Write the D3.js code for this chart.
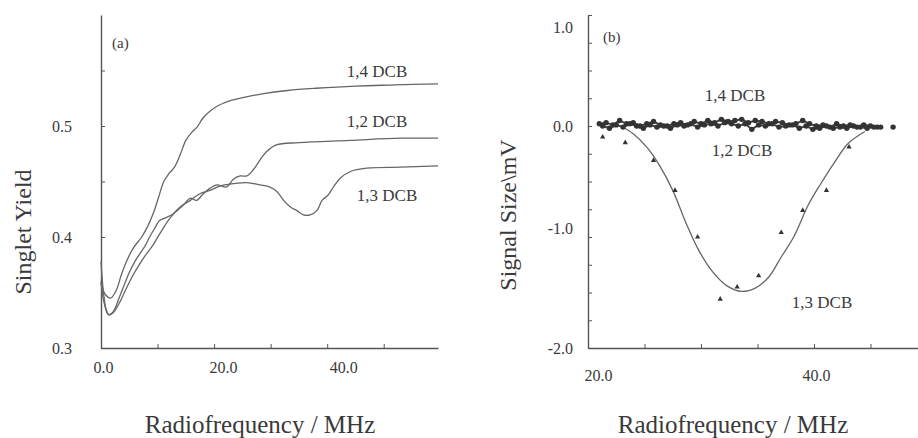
<!DOCTYPE html>
<html>
<head>
<meta charset="utf-8">
<script src="https://cdn.jsdelivr.net/npm/d3@7"></script>
<style>
  body { margin: 0; background: #fff; }
  svg { display: block; }
  text { font-family: "Liberation Serif", "Times New Roman", serif; fill: #3a3a3a; }
</style>
</head>
<body>
<svg id="chart" width="918" height="438"></svg>
<script>
// ---- panel (a): singlet yield vs radiofrequency ----
const yield14 = [[0,0.358],[0.8,0.348],[1.7,0.345],[2.7,0.352],[3.6,0.366],[4.6,0.379],[5.7,0.390],[7.2,0.400],[8.3,0.410],[9.3,0.422],[10.2,0.436],[11.1,0.450],[12.0,0.457],[13.0,0.463],[14.0,0.474],[15.0,0.487],[16.0,0.494],[17.0,0.499],[18.0,0.507],[19.2,0.513],[20.6,0.518],[23.0,0.523],[25.5,0.526],[28.5,0.529],[33,0.532],[38,0.534],[45,0.536],[52,0.537],[59.6,0.538]];
const yield12 = [[0,0.378],[0.4,0.352],[0.9,0.335],[1.4,0.330],[2.2,0.333],[3.2,0.345],[4.2,0.358],[5.0,0.368],[6.0,0.378],[7.0,0.386],[7.8,0.392],[8.6,0.400],[9.4,0.407],[10.4,0.415],[11.3,0.417],[12.8,0.421],[14.6,0.429],[15.8,0.435],[16.9,0.433],[18.1,0.439],[19.3,0.444],[20.5,0.447],[22.2,0.445],[23.4,0.452],[24.6,0.455],[25.8,0.455],[27.0,0.461],[28.2,0.470],[29.3,0.477],[31.0,0.483],[35,0.485],[44,0.487],[53,0.489],[59.6,0.489]];
const yield13 = [[0,0.360],[0.5,0.342],[1.3,0.330],[2.2,0.332],[3.4,0.342],[4.6,0.355],[5.7,0.366],[7.0,0.377],[8.2,0.386],[9.1,0.392],[10.4,0.403],[12.2,0.417],[14.0,0.427],[15.8,0.433],[17.5,0.439],[19.3,0.442],[21.1,0.446],[23.4,0.448],[25.8,0.449],[28.1,0.447],[29.9,0.445],[31.1,0.441],[32.3,0.433],[33.5,0.427],[34.6,0.424],[35.8,0.420],[37.0,0.420],[38.2,0.424],[39.1,0.433],[40.2,0.438],[41.1,0.445],[42.3,0.453],[44.1,0.459],[47.0,0.462],[52.9,0.463],[59.6,0.464]];
const yieldTicks = [0.3, 0.4, 0.5];
const freqTicksA = [0, 20, 40];

// ---- panel (b): signal size vs radiofrequency ----
const sig14X = [21.0,21.6,22.2,22.8,23.4,24.0,24.6,25.2,25.8,26.4,27.0,27.6,28.2,28.8,29.4,30.0,30.6,31.2,31.8,32.4,33.0,33.6,34.2,34.8,35.4,36.0,36.6,37.2,37.8,38.4,39.0,39.6,40.2,40.8,41.4,42.0,42.6,43.2,43.8,44.4,45.0,45.6];
const sig14Y = [0.02,0.03,0.01,0.05,0.02,0.03,0.00,0.02,0.04,0.01,0.00,0.02,0.03,0.01,0.04,0.02,0.05,0.03,0.06,0.04,0.05,0.06,0.03,0.05,0.04,0.02,0.04,0.03,0.01,0.02,0.05,0.02,0.00,0.01,-0.01,0.02,0.00,0.01,-0.01,0.01,0.00,-0.01];
const sig12X = [21.3,21.9,22.5,23.1,23.7,24.3,24.9,25.5,26.1,26.7,27.3,27.9,28.5,29.1,29.7,30.3,30.9,31.5,32.1,32.7,33.3,33.9,34.5,35.1,35.7,36.3,36.9,37.5,38.1,38.7,39.3,39.9,40.5,41.1,41.7,42.3,42.9,43.5,44.1,44.7,45.3,45.9,47.0];
const sig12Y = [0.00,-0.02,0.01,-0.01,0.02,0.00,-0.02,0.01,-0.01,0.00,-0.02,0.01,0.00,0.02,-0.01,0.01,0.02,0.00,0.03,0.02,0.00,0.02,-0.03,0.01,0.00,0.02,-0.01,0.00,0.01,-0.02,0.00,-0.03,-0.02,0.00,-0.02,-0.01,-0.02,0.00,-0.01,-0.02,-0.01,-0.01,-0.01];
const sig13X = [21.3,23.3,25.8,27.7,29.7,31.7,33.2,35.1,37.1,39.0,41.1,43.1];
const sig13Y = [-0.10,-0.15,-0.31,-0.58,-1.00,-1.56,-1.45,-1.35,-0.96,-0.76,-0.58,-0.19];
const fit13 = [[22.9,0.0],[24.0,-0.07],[25.2,-0.19],[26.3,-0.35],[27.5,-0.58],[28.7,-0.88],[29.8,-1.12],[31.0,-1.31],[32.3,-1.44],[33.6,-1.49],[34.8,-1.46],[36.0,-1.36],[37.1,-1.18],[38.2,-1.00],[39.5,-0.71],[40.6,-0.52],[41.8,-0.33],[43.0,-0.16],[44.5,-0.05]];
const signalTicks = [-2, -1, 0, 1];
const freqTicksB = [20, 40];

const svg = d3.select("#chart");
const ink = "#555";

function styleAxis(g) {
  g.select(".domain").attr("stroke", ink).attr("stroke-width", 1.4);
  g.selectAll(".tick line").attr("stroke", ink).attr("stroke-width", 1);
  g.selectAll(".tick text")
    .style("font-family", "'Liberation Serif', serif")
    .style("font-size", "16px")
    .style("fill", "#3a3a3a");
}

// the printed labels sit a little off their ticks in the original
const nudgeX = (shift) => (g) => g.selectAll(".tick text").attr("dx", d => (shift[d] || 0) + "px");
const fmt1 = d => (+d).toFixed(1);

// ================= panel (a) =================
const xA = d3.scaleLinear().domain([0, 59.6]).range([101, 438]);
const yA = d3.scaleLinear().domain([0.3, 0.6]).range([348, 15]);

svg.append("g")
  .attr("transform", "translate(0,348)")
  .call(d3.axisBottom(xA).tickValues(d3.range(0, 59, 10)).tickSizeInner(-4).tickSizeOuter(0).tickPadding(14)
    .tickFormat(d => freqTicksA.includes(d) ? fmt1(d) : ""))
  .call(styleAxis)
  .call(nudgeX({ 0: 2, 20: 9, 40: 16 }));

svg.append("g")
  .attr("transform", "translate(101,0)")
  .call(d3.axisLeft(yA).tickValues([0.3, 0.35, 0.4, 0.45, 0.5, 0.55]).tickSizeInner(-4).tickSizeOuter(0).tickPadding(29)
    .tickFormat(d => yieldTicks.some(t => Math.abs(t - d) < 1e-9) ? fmt1(d) : ""))
  .call(styleAxis);

const lineA = d3.line().x(d => xA(d[0])).y(d => yA(d[1])).curve(d3.curveCatmullRom.alpha(0.5));
[yield14, yield12, yield13].forEach(s => {
  svg.append("path").datum(s)
    .attr("d", lineA)
    .attr("fill", "none")
    .attr("stroke", "#666")
    .attr("stroke-width", 1.3);
});

svg.append("text").attr("x", 112).attr("y", 48).style("font-size", "15px").text("(a)");
svg.append("text").attr("x", 377).attr("y", 77).attr("text-anchor", "middle").style("font-size", "17px").text("1,4 DCB");
svg.append("text").attr("x", 377).attr("y", 127).attr("text-anchor", "middle").style("font-size", "17px").text("1,2 DCB");
svg.append("text").attr("x", 387).attr("y", 201).attr("text-anchor", "middle").style("font-size", "17px").text("1,3 DCB");

svg.append("text")
  .attr("transform", "translate(31,232) rotate(-90)")
  .attr("text-anchor", "middle")
  .style("font-size", "24px")
  .text("Singlet Yield");
svg.append("text")
  .attr("x", 260).attr("y", 433)
  .attr("text-anchor", "middle")
  .style("font-size", "25px")
  .text("Radiofrequency / MHz");

// ================= panel (b) =================
const xB = d3.scaleLinear().domain([20, 50]).range([588, 927]);
const yB = d3.scaleLinear().domain([-2, 1]).range([348, 15]);

svg.append("g")
  .attr("transform", "translate(0,348)")
  .call(d3.axisBottom(xB).tickValues(d3.range(20, 51, 5)).tickSizeInner(-4).tickSizeOuter(0).tickPadding(22)
    .tickFormat(d => freqTicksB.includes(d) ? fmt1(d) : ""))
  .call(styleAxis)
  .call(nudgeX({ 20: 10, 40: 2 }));

svg.append("g")
  .attr("transform", "translate(588,0)")
  .call(d3.axisLeft(yB).tickValues(d3.range(-2, 1.01, 0.25)).tickSizeInner(-4).tickSizeOuter(0).tickPadding(15)
    .tickFormat(d => signalTicks.some(t => Math.abs(t - d) < 1e-9) ? fmt1(d) : ""))
  .call(styleAxis)
  .call(g => g.selectAll(".tick text").attr("dy", d => d === 1 ? "1.07em" : d === -1 ? "-0.24em" : "0.32em"));

const lineB = d3.line().x(d => xB(d[0])).y(d => yB(d[1])).curve(d3.curveCatmullRom.alpha(0.5));
svg.append("path").datum(fit13)
  .attr("d", lineB)
  .attr("fill", "none")
  .attr("stroke", "#666")
  .attr("stroke-width", 1.3);

const pts14 = sig14X.map((x, i) => ({ x, y: sig14Y[i] }));
const pts12 = sig12X.map((x, i) => ({ x, y: sig12Y[i] }));
const dotLine = d3.line().x(d => xB(d.x)).y(d => yB(d.y));
[pts14, pts12.filter(d => d.x < 45)].forEach(p => {
  svg.append("path").datum(p)
    .attr("d", dotLine)
    .attr("fill", "none")
    .attr("stroke", "#444")
    .attr("stroke-width", 2);
});
svg.append("g").selectAll("circle")
  .data(pts14.concat(pts12))
  .join("circle")
  .attr("cx", d => xB(d.x))
  .attr("cy", d => yB(d.y))
  .attr("r", 2.7)
  .attr("fill", "#333");

svg.append("g").selectAll("path")
  .data(sig13X.map((x, i) => ({ x, y: sig13Y[i] })))
  .join("path")
  .attr("transform", d => `translate(${xB(d.x)},${yB(d.y)})`)
  .attr("d", d3.symbol(d3.symbolTriangle, 12))
  .attr("fill", "#333");

svg.append("text").attr("x", 603).attr("y", 42).style("font-size", "15px").text("(b)");
svg.append("text").attr("x", 735).attr("y", 101).attr("text-anchor", "middle").style("font-size", "17px").text("1,4 DCB");
svg.append("text").attr("x", 742).attr("y", 156).attr("text-anchor", "middle").style("font-size", "17px").text("1,2 DCB");
svg.append("text").attr("x", 822).attr("y", 308).attr("text-anchor", "middle").style("font-size", "17px").text("1,3 DCB");

svg.append("text")
  .attr("transform", "translate(516,215) rotate(-90)")
  .attr("text-anchor", "middle")
  .style("font-size", "24px")
  .text("Signal Size\\mV");
svg.append("text")
  .attr("x", 733).attr("y", 433)
  .attr("text-anchor", "middle")
  .style("font-size", "25px")
  .text("Radiofrequency / MHz");
</script>
</body>
</html>
